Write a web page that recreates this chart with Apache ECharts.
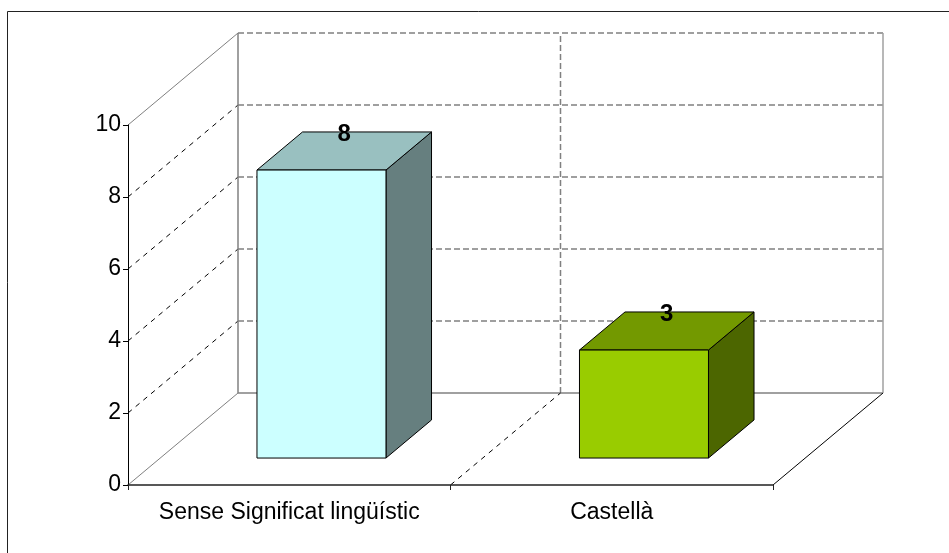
<!DOCTYPE html>
<html>
<head>
<meta charset="utf-8">
<title>Sense Significat lingüístic / Castellà</title>
<script src="https://cdn.jsdelivr.net/npm/echarts@6/dist/echarts.min.js"></script>
<style>
  html, body { margin: 0; padding: 0; background: #ffffff; }
  #chart { width: 949px; height: 553px; }
</style>
</head>
<body>
<div id="chart"></div>
<script>
// Chart data
const categories = ['Sense Significat lingüístic', 'Castellà'];
const values = [8, 3];
const yTicks = [0, 2, 4, 6, 8, 10];

// Pseudo-3D projection: depth offset of the back wall, in pixels
const DX = 110;
const DY = 92;
// Bars sit between these depth fractions and take this share of a category band
const D0 = 0.293;
const D1 = 0.707;
const BAR_FRAC = 0.40;

const FONT = "'Liberation Sans', Arial, sans-serif";
const faceColors = [
  { front: '#ccffff', top: '#99c0c0', side: '#667f7f' },
  { front: '#99cc00', top: '#739900', side: '#4c6600' }
];

const chart = echarts.init(document.getElementById('chart'), null, { renderer: 'canvas' });

function bandInfo(api) {
  const band = api.size([1, 0])[0];
  const c0 = api.coord([0, 0])[0];
  const left = c0 - band / 2;
  return { band, left, right: left + band * categories.length };
}

// Back wall gridlines and left-wall diagonals, one item per tick value
function renderGrid(params, api) {
  const v = api.value(1);
  const b = bandInfo(api);
  const y = api.coord([0, v])[1];
  const children = [];
  const isEdge = v === yTicks[0] || v === yTicks[yTicks.length - 1];
  // back wall horizontal
  children.push({
    type: 'line',
    shape: { x1: b.left + DX, y1: y - DY, x2: b.right + DX, y2: y - DY },
    style: {
      stroke: '#808080', lineWidth: 1.5,
      lineDash: v === yTicks[0] ? null : [6, 3]
    }
  });
  // left wall diagonal
  children.push({
    type: 'line',
    shape: { x1: b.left, y1: y, x2: b.left + DX, y2: y - DY },
    style: {
      stroke: isEdge ? '#808080' : '#000000', lineWidth: 1,
      lineDash: isEdge ? null : [5, 5]
    }
  });
  return { type: 'group', children };
}

// Wall edges, category dividers and the floor's right edge
function renderFrame(params, api) {
  const b = bandInfo(api);
  const y0 = api.coord([0, yTicks[0]])[1];
  const y1 = api.coord([0, yTicks[yTicks.length - 1]])[1];
  const children = [];
  children.push({
    type: 'line',
    shape: { x1: b.left + DX, y1: y0 - DY, x2: b.left + DX, y2: y1 - DY },
    style: { stroke: '#808080', lineWidth: 1.5 }
  });
  children.push({
    type: 'line',
    shape: { x1: b.right + DX, y1: y0 - DY, x2: b.right + DX, y2: y1 - DY },
    style: { stroke: '#a0a0a0', lineWidth: 1.5 }
  });
  for (let i = 1; i < categories.length; i++) {
    const x = b.left + b.band * i;
    children.push({
      type: 'line',
      shape: { x1: x + DX, y1: y0 - DY, x2: x + DX, y2: y1 - DY },
      style: { stroke: '#808080', lineWidth: 1.5, lineDash: [6, 3] }
    });
    children.push({
      type: 'line',
      shape: { x1: x, y1: y0, x2: x + DX, y2: y0 - DY },
      style: { stroke: '#000000', lineWidth: 1, lineDash: [5, 5] }
    });
  }
  children.push({
    type: 'line',
    shape: { x1: b.right, y1: y0, x2: b.right + DX, y2: y0 - DY },
    style: { stroke: '#000000', lineWidth: 1 }
  });
  return { type: 'group', children };
}

// One 3D box per category, with its value written over the top face
function renderBox(params, api) {
  const ci = api.value(0);
  const v = api.value(1);
  const base = api.coord([ci, 0]);
  const top = api.coord([ci, v]);
  const w = api.size([1, 0])[0] * BAR_FRAC;
  const x0 = base[0] - w / 2;
  const x1 = base[0] + w / 2;
  const fx = DX * D0, fy = DY * D0;
  const bx = DX * D1, by = DY * D1;
  const c = faceColors[params.dataIndex % faceColors.length];
  const edge = { stroke: '#000000', lineWidth: 1, lineJoin: 'miter' };
  return {
    type: 'group',
    children: [
      {
        type: 'polygon',
        shape: { points: [[x1 + fx, top[1] - fy], [x1 + bx, top[1] - by], [x1 + bx, base[1] - by], [x1 + fx, base[1] - fy]] },
        style: Object.assign({ fill: c.side }, edge)
      },
      {
        type: 'polygon',
        shape: { points: [[x0 + fx, top[1] - fy], [x0 + bx, top[1] - by], [x1 + bx, top[1] - by], [x1 + fx, top[1] - fy]] },
        style: Object.assign({ fill: c.top }, edge)
      },
      {
        type: 'rect',
        shape: { x: x0 + fx, y: top[1] - fy, width: w, height: base[1] - top[1] },
        style: Object.assign({ fill: c.front }, edge)
      },
      {
        type: 'text',
        x: (x0 + fx + x1 + bx) / 2,
        y: top[1] - by + 2,
        style: {
          text: String(v), fill: '#000000',
          font: 'bold 24px ' + FONT,
          align: 'center', verticalAlign: 'middle'
        }
      }
    ]
  };
}

const option = {
  animation: false,
  backgroundColor: '#ffffff',
  graphic: [
    { type: 'line', shape: { x1: 7.5, y1: 11.5, x2: 949, y2: 11.5 }, style: { stroke: '#222', lineWidth: 1 }, z: 100 },
    { type: 'line', shape: { x1: 7.5, y1: 11.5, x2: 7.5, y2: 553 }, style: { stroke: '#222', lineWidth: 1 }, z: 100 }
  ],
  grid: { left: 128, right: 176, top: 125, bottom: 68, containLabel: false },
  xAxis: {
    type: 'category',
    data: categories,
    boundaryGap: true,
    axisLine: { lineStyle: { color: '#222', width: 1.5 } },
    axisTick: { show: true, length: 5, lineStyle: { color: '#222' } },
    axisLabel: { color: '#000', fontFamily: FONT, fontSize: 23, margin: 16, interval: 0 },
    splitLine: { show: false },
    z: 10
  },
  yAxis: {
    type: 'value',
    min: 0, max: 10, interval: 2,
    axisLine: { show: true, lineStyle: { color: '#000', width: 1 } },
    axisTick: { show: true, length: 5, lineStyle: { color: '#000' } },
    axisLabel: { color: '#000', fontFamily: FONT, fontSize: 23, margin: 7 },
    splitLine: { show: false },
    z: 10
  },
  series: [
    {
      type: 'custom',
      renderItem: renderGrid,
      data: yTicks.map(v => [0, v]),
      silent: true,
      z: 1
    },
    {
      type: 'custom',
      renderItem: renderFrame,
      data: [[0, 0]],
      silent: true,
      z: 1
    },
    {
      type: 'custom',
      renderItem: renderBox,
      data: values.map((v, i) => [i, v]),
      z: 5
    }
  ]
};

chart.setOption(option);
</script>
</body>
</html>
